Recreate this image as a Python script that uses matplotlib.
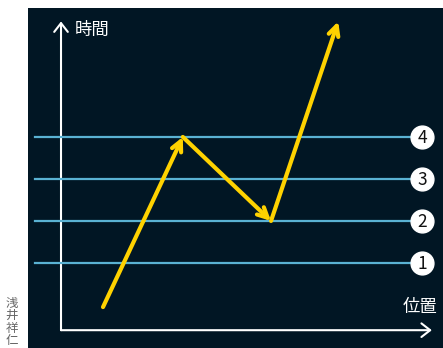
import matplotlib
matplotlib.use('Agg')
import matplotlib.pyplot as plt
from matplotlib.patches import FancyArrowPatch

plt.rcParams['font.family'] = ['Noto Sans CJK JP', 'DejaVu Sans']

# data
levels = [1, 2, 3, 4]
level_labels = ['1', '2', '3', '4']
path_x = [1.0, 2.9, 5.0, 6.6]
path_y = [-0.05, 4.0, 2.0, 6.75]

bg = '#011624'
fig = plt.figure(figsize=(4.43, 3.48), dpi=100)
ax = fig.add_axes([28/443, 0, 415/443, 340/348])
ax.set_facecolor(bg)
ax.set_xlim(-0.786, 9.095)
ax.set_ylim(-1.024, 7.07)
for s in ax.spines.values():
    s.set_visible(False)
ax.set_xticks([])
ax.set_yticks([])

# level lines and circled numbers
for lv, lab in zip(levels, level_labels):
    ax.plot([-0.62, 8.6], [lv, lv], color='#5ab2d3', lw=1.6, zorder=2)
    ax.scatter([8.6], [lv], s=270, color='white', zorder=3)
    ax.text(8.6, lv - 0.02, lab, ha='center', va='center', fontsize=12.5,
            color='#111111', zorder=4)

# axes arrows
axis_style = '->,head_width=0.35,head_length=0.45'
ax.add_patch(FancyArrowPatch((0, -0.6), (0, 6.75), arrowstyle=axis_style,
                             mutation_scale=14, color='white', lw=1.5,
                             shrinkA=0, shrinkB=0))
ax.add_patch(FancyArrowPatch((0, -0.6), (8.83, -0.6), arrowstyle=axis_style,
                             mutation_scale=14, color='white', lw=1.5,
                             shrinkA=0, shrinkB=0))
ax.text(0.33, 6.55, '時間', color='white', fontsize=12.5, va='center',
        ha='left')
ax.text(8.95, -0.05, '位置', color='white', fontsize=12.5, va='center',
        ha='right')

# path
for i in range(len(path_x) - 1):
    ax.add_patch(FancyArrowPatch((path_x[i], path_y[i]),
                                 (path_x[i+1], path_y[i+1]),
                                 arrowstyle='->', mutation_scale=18,
                                 color='#ffd200', lw=3.0,
                                 capstyle='round', joinstyle='round',
                                 shrinkA=0, shrinkB=0, zorder=5))

fig.text(12/443, 1 - 322/348, '\n'.join('浅井祥仁'), color='#666666',
         fontsize=9, ha='center', va='center', linespacing=0.95)

fig.savefig('out.png', dpi=100, facecolor='white')
